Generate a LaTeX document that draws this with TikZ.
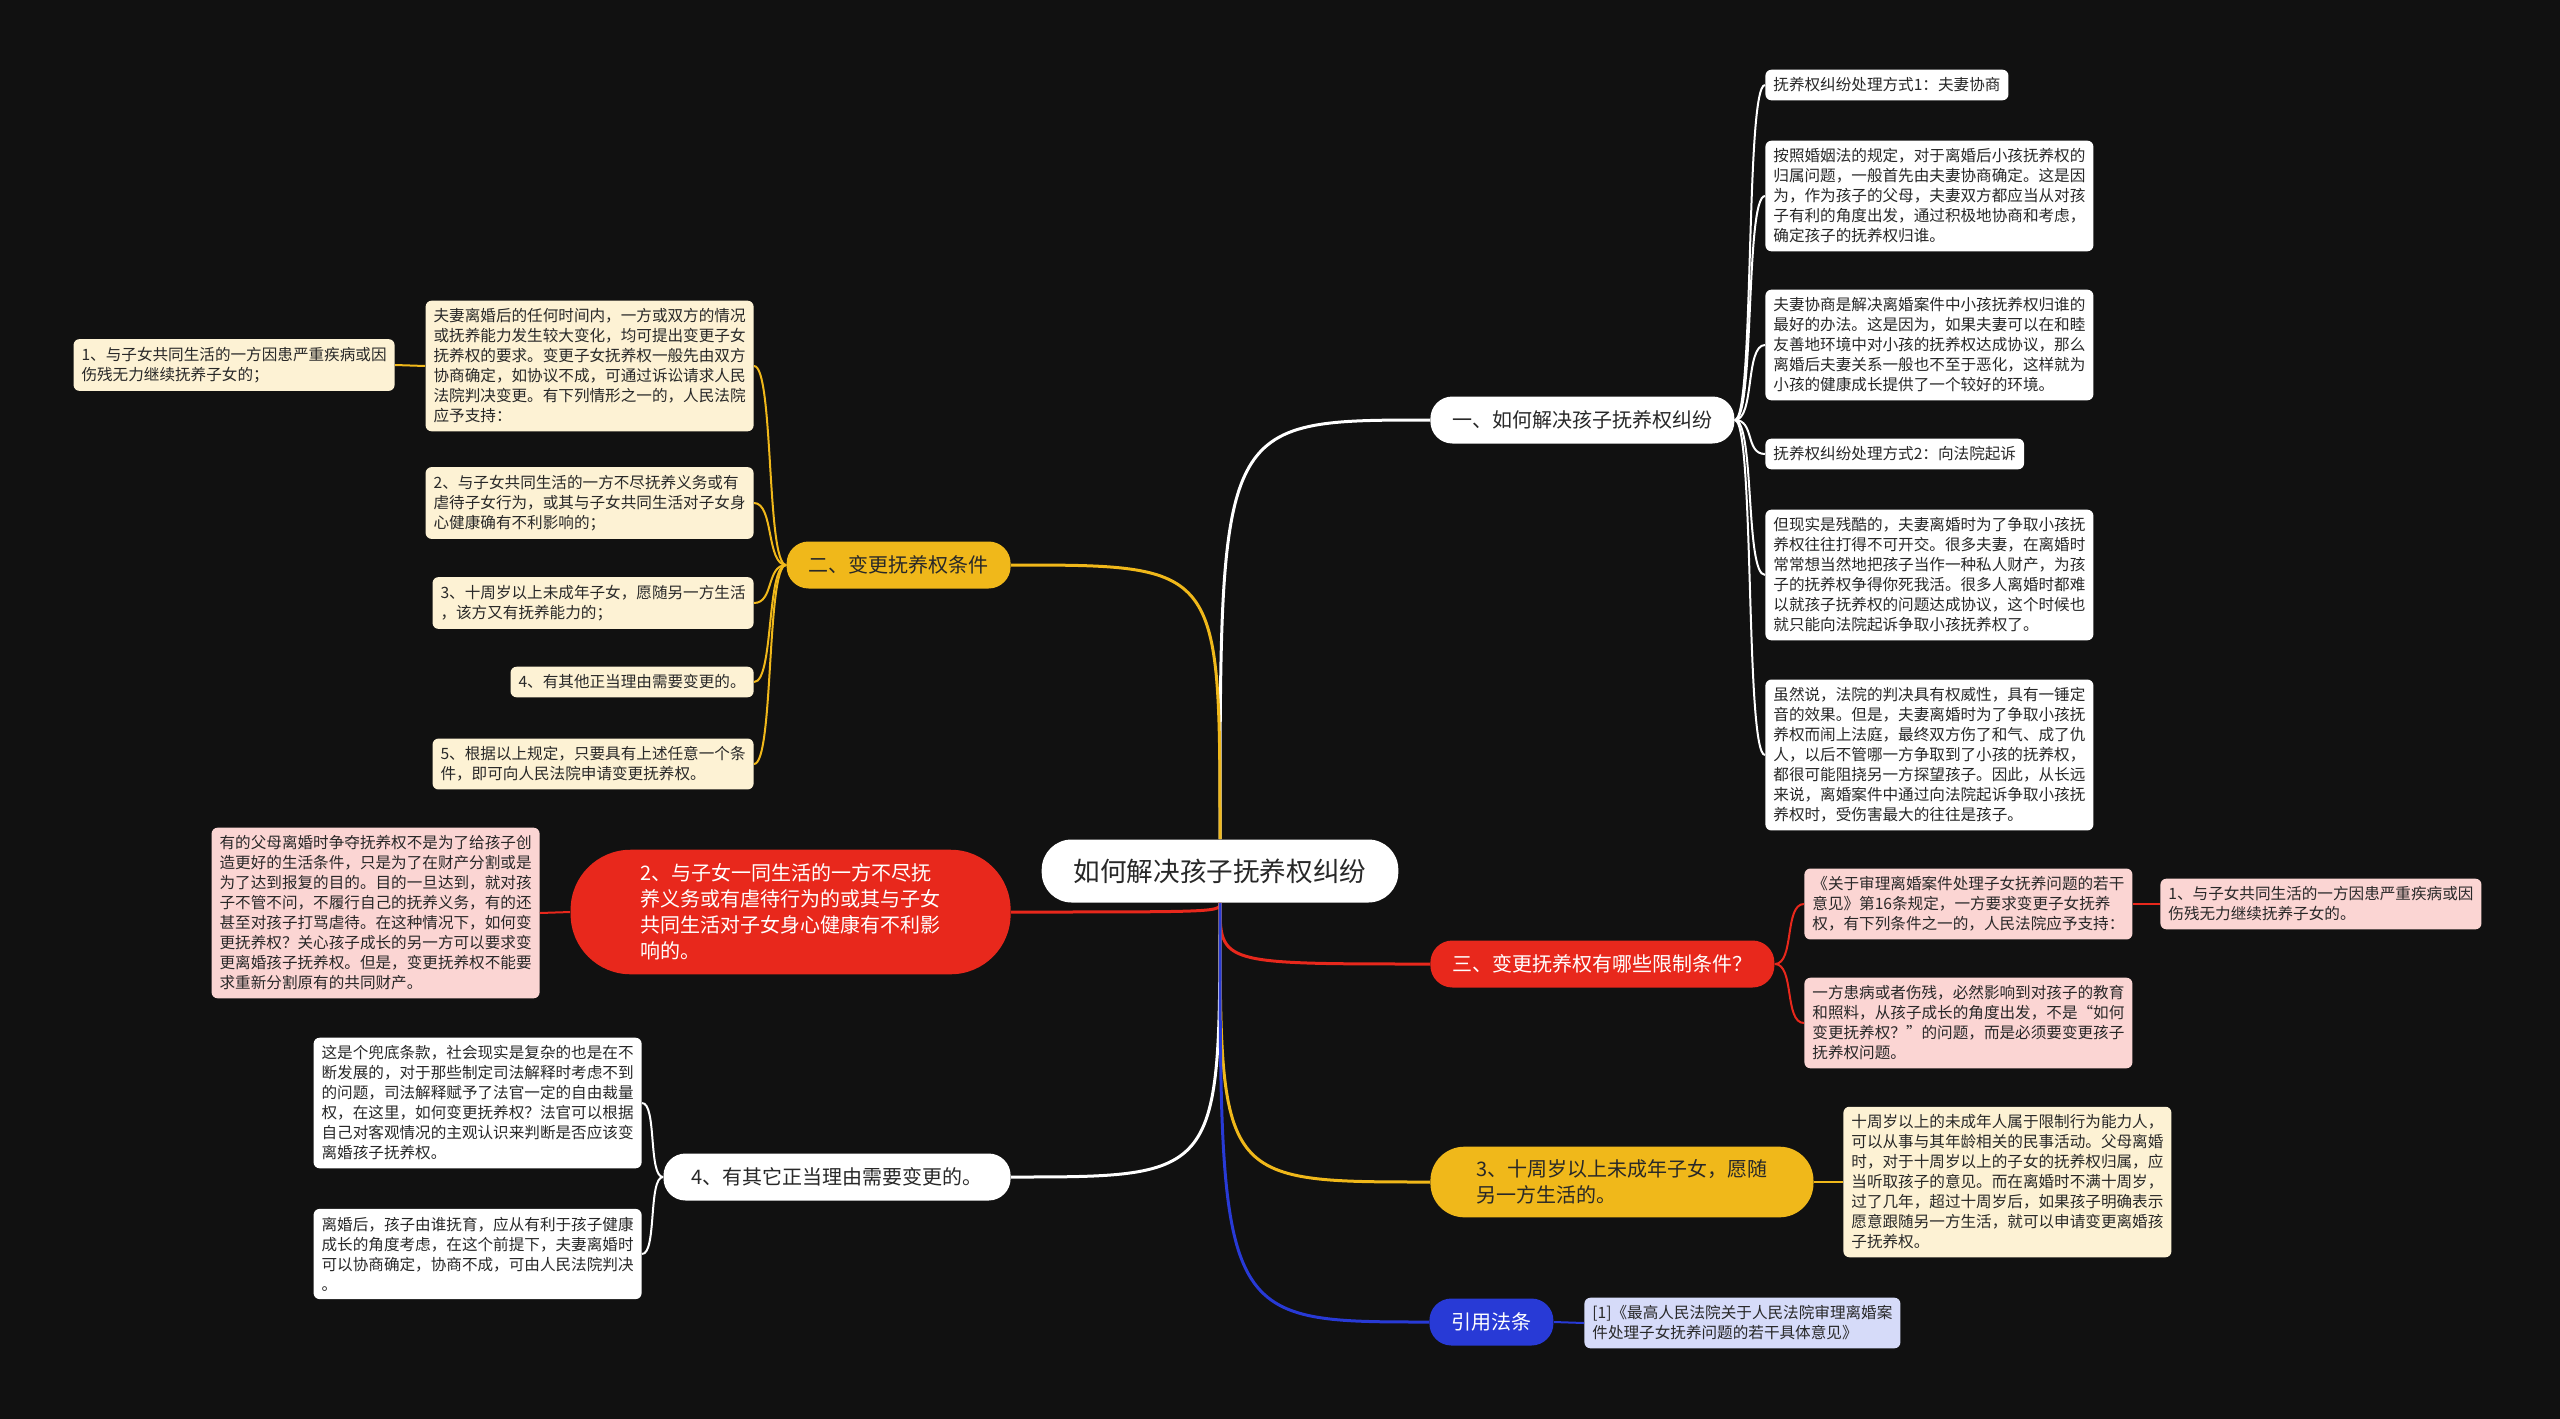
\documentclass[tikz,border=0pt]{standalone}
\usepackage{fontspec}
\setmainfont{Noto Sans CJK SC}
\usetikzlibrary{positioning}
\definecolor{bgdark}{RGB}{17,17,17}
\definecolor{textdark}{RGB}{40,40,40}
\definecolor{mapyellow}{RGB}{240,184,26}
\definecolor{mapred}{RGB}{232,40,28}
\definecolor{mapblue}{RGB}{40,58,214}
\definecolor{notecream}{RGB}{253,242,212}
\definecolor{notepink}{RGB}{251,213,211}
\definecolor{notelilac}{RGB}{214,219,249}

\begin{document}
\begin{tikzpicture}[x=0.5pt,y=-0.5pt]
\tikzstyle{note}=[rounded corners=3pt,inner xsep=4pt,inner ysep=4pt,
align=left,text=textdark,font=\fontsize{7.8}{10}\selectfont]
\tikzstyle{wnote}=[note,fill=white]
\tikzstyle{ynote}=[note,fill=notecream]
\tikzstyle{rnote}=[note,fill=notepink]
\tikzstyle{bnote}=[note,fill=notelilac]
\tikzstyle{topic}=[rounded corners=11pt,minimum height=23.5pt,inner xsep=11pt,
align=left,font=\fontsize{10}{13}\selectfont]
\tikzstyle{wtopic}=[topic,fill=white,text=textdark]
\tikzstyle{ytopic}=[topic,fill=mapyellow,text=textdark]
\tikzstyle{rtopic}=[topic,fill=mapred,text=white]
\tikzstyle{btopic}=[topic,fill=mapblue,text=white]
\tikzstyle{wline}=[draw=white,line width=1pt]
\tikzstyle{yline}=[draw=mapyellow,line width=1pt]
\tikzstyle{rline}=[draw=mapred,line width=1pt]
\tikzstyle{bline}=[draw=mapblue,line width=1pt]
\tikzstyle{trunk}=[line width=1.5pt]

\fill[bgdark] (0,0) rectangle (2560,1419);
\useasboundingbox (0,0) rectangle (2560,1419);

% centre
\node[fill=white,text=textdark,rounded corners=15pt,minimum height=31.5pt,
inner xsep=16pt,font=\fontsize{13.3}{16}\selectfont] (root) at (1220,871) {如何解决孩子抚养权纠纷};

% right side
\node[wtopic,anchor=west] (b1) at (1430,420) {一、如何解决孩子抚养权纠纷};
\node[wnote,anchor=west] (c1) at (1765,85) {抚养权纠纷处理方式1：夫妻协商};
\node[wnote,anchor=west] (c2) at (1765,196) {按照婚姻法的规定，对于离婚后小孩抚养权的\\归属问题，一般首先由夫妻协商确定。这是因\\为，作为孩子的父母，夫妻双方都应当从对孩\\子有利的角度出发，通过积极地协商和考虑，\\确定孩子的抚养权归谁。};
\node[wnote,anchor=west] (c3) at (1765,345) {夫妻协商是解决离婚案件中小孩抚养权归谁的\\最好的办法。这是因为，如果夫妻可以在和睦\\友善地环境中对小孩的抚养权达成协议，那么\\离婚后夫妻关系一般也不至于恶化，这样就为\\小孩的健康成长提供了一个较好的环境。};
\node[wnote,anchor=west] (c4) at (1765,454) {抚养权纠纷处理方式2：向法院起诉};
\node[wnote,anchor=west] (c5) at (1765,575) {但现实是残酷的，夫妻离婚时为了争取小孩抚\\养权往往打得不可开交。很多夫妻，在离婚时\\常常想当然地把孩子当作一种私人财产，为孩\\子的抚养权争得你死我活。很多人离婚时都难\\以就孩子抚养权的问题达成协议，这个时候也\\就只能向法院起诉争取小孩抚养权了。};
\node[wnote,anchor=west] (c6) at (1765,755) {虽然说，法院的判决具有权威性，具有一锤定\\音的效果。但是，夫妻离婚时为了争取小孩抚\\养权而闹上法庭，最终双方伤了和气、成了仇\\人，以后不管哪一方争取到了小孩的抚养权，\\都很可能阻挠另一方探望孩子。因此，从长远\\来说，离婚案件中通过向法院起诉争取小孩抚\\养权时，受伤害最大的往往是孩子。};

\node[rtopic,anchor=west] (b3) at (1430,964) {三、变更抚养权有哪些限制条件？};
\node[rnote,anchor=west] (f1) at (1804,904) {《关于审理离婚案件处理子女抚养问题的若干\\意见》第16条规定，一方要求变更子女抚养\\权，有下列条件之一的，人民法院应予支持：};
\node[rnote,anchor=west] (g1) at (2160,904) {1、与子女共同生活的一方因患严重疾病或因\\伤残无力继续抚养子女的。};
\node[rnote,anchor=west] (f2) at (1804,1023) {一方患病或者伤残，必然影响到对孩子的教育\\和照料，从孩子成长的角度出发，不是“如何\\变更抚养权？”的问题，而是必须要变更孩子\\抚养权问题。};

\node[ytopic,anchor=west,rounded corners=17pt,inner xsep=23pt,inner ysep=6.5pt] (b4) at (1430,1182) {3、十周岁以上未成年子女，愿随\\另一方生活的。};
\node[ynote,anchor=west] (h1) at (1843,1182) {十周岁以上的未成年人属于限制行为能力人，\\可以从事与其年龄相关的民事活动。父母离婚\\时，对于十周岁以上的子女的抚养权归属，应\\当听取孩子的意见。而在离婚时不满十周岁，\\过了几年，超过十周岁后，如果孩子明确表示\\愿意跟随另一方生活，就可以申请变更离婚孩\\子抚养权。};

\node[btopic,anchor=west] (b5) at (1429,1322) {引用法条};
\node[bnote,anchor=west] (i1) at (1584,1323) {[1]《最高人民法院关于人民法院审理离婚案\\件处理子女抚养问题的若干具体意见》};

% left side
\node[ytopic,anchor=east] (b2) at (1011,565) {二、变更抚养权条件};
\node[ynote,anchor=east] (d0) at (754,366) {夫妻离婚后的任何时间内，一方或双方的情况\\或抚养能力发生较大变化，均可提出变更子女\\抚养权的要求。变更子女抚养权一般先由双方\\协商确定，如协议不成，可通过诉讼请求人民\\法院判决变更。有下列情形之一的，人民法院\\应予支持：};
\node[ynote,anchor=east] (e1) at (395,365) {1、与子女共同生活的一方因患严重疾病或因\\伤残无力继续抚养子女的；};
\node[ynote,anchor=east] (d1) at (754,503) {2、与子女共同生活的一方不尽抚养义务或有\\虐待子女行为，或其与子女共同生活对子女身\\心健康确有不利影响的；};
\node[ynote,anchor=east] (d2) at (754,603) {3、十周岁以上未成年子女，愿随另一方生活\\，该方又有抚养能力的；};
\node[ynote,anchor=east] (d3) at (754,682) {4、有其他正当理由需要变更的。};
\node[ynote,anchor=east] (d4) at (754,764) {5、根据以上规定，只要具有上述任意一个条\\件，即可向人民法院申请变更抚养权。};

\node[rtopic,anchor=east,rounded corners=30pt,inner xsep=35pt,inner ysep=7pt] (b6) at (1011,912) {2、与子女一同生活的一方不尽抚\\养义务或有虐待行为的或其与子女\\共同生活对子女身心健康有不利影\\响的。};
\node[rnote,anchor=east] (j1) at (540,913) {有的父母离婚时争夺抚养权不是为了给孩子创\\造更好的生活条件，只是为了在财产分割或是\\为了达到报复的目的。目的一旦达到，就对孩\\子不管不问，不履行自己的抚养义务，有的还\\甚至对孩子打骂虐待。在这种情况下，如何变\\更抚养权？关心孩子成长的另一方可以要求变\\更离婚孩子抚养权。但是，变更抚养权不能要\\求重新分割原有的共同财产。};

\node[wtopic,anchor=east,inner xsep=14pt] (b7) at (1011,1177) {4、有其它正当理由需要变更的。};
\node[wnote,anchor=east] (k1) at (642,1103) {这是个兜底条款，社会现实是复杂的也是在不\\断发展的，对于那些制定司法解释时考虑不到\\的问题，司法解释赋予了法官一定的自由裁量\\权，在这里，如何变更抚养权？法官可以根据\\自己对客观情况的主观认识来判断是否应该变\\离婚孩子抚养权。};
\node[wnote,anchor=east] (k2) at (642,1254) {离婚后，孩子由谁抚育，应从有利于孩子健康\\成长的角度考虑，在这个前提下，夫妻离婚时\\可以协商确定，协商不成，可由人民法院判决\\。};

% trunk lines
\draw[wline,trunk] (root.north) .. controls (root.north |- b1.west) .. (b1.west);
\draw[yline,trunk] (root.north) .. controls (root.north |- b2.east) .. (b2.east);
\draw[rline,trunk] (root.south) .. controls (root.south |- b6.east) .. (b6.east);
\draw[wline,trunk] (root.south) .. controls (root.south |- b7.east) .. (b7.east);
\draw[rline,trunk] (root.south) .. controls (root.south |- b3.west) .. (b3.west);
\draw[yline,trunk] (root.south) .. controls (root.south |- b4.west) .. (b4.west);
\draw[bline,trunk] (root.south) .. controls (root.south |- b5.west) .. (b5.west);

% branch lines
\draw[wline] (b1.east) .. controls +(20,0) and +(-20,0) .. (c1.west);
\draw[wline] (b1.east) .. controls +(20,0) and +(-20,0) .. (c2.west);
\draw[wline] (b1.east) .. controls +(20,0) and +(-20,0) .. (c3.west);
\draw[wline] (b1.east) .. controls +(20,0) and +(-20,0) .. (c4.west);
\draw[wline] (b1.east) .. controls +(20,0) and +(-20,0) .. (c5.west);
\draw[wline] (b1.east) .. controls +(20,0) and +(-20,0) .. (c6.west);
\draw[rline] (b3.east) .. controls +(20,0) and +(-20,0) .. (f1.west);
\draw[rline] (b3.east) .. controls +(20,0) and +(-20,0) .. (f2.west);
\draw[rline] (f1.east) .. controls +(15,0) and +(-15,0) .. (g1.west);
\draw[yline] (b4.east) .. controls +(15,0) and +(-15,0) .. (h1.west);
\draw[bline] (b5.east) .. controls +(15,0) and +(-15,0) .. (i1.west);
\draw[yline] (b2.west) .. controls +(-20,0) and +(20,0) .. (d0.east);
\draw[yline] (b2.west) .. controls +(-20,0) and +(20,0) .. (d1.east);
\draw[yline] (b2.west) .. controls +(-20,0) and +(20,0) .. (d2.east);
\draw[yline] (b2.west) .. controls +(-20,0) and +(20,0) .. (d3.east);
\draw[yline] (b2.west) .. controls +(-20,0) and +(20,0) .. (d4.east);
\draw[yline] (d0.west) .. controls +(-15,0) and +(15,0) .. (e1.east);
\draw[rline] (b6.west) .. controls +(-15,0) and +(15,0) .. (j1.east);
\draw[wline] (b7.west) .. controls +(-15,0) and +(15,0) .. (k1.east);
\draw[wline] (b7.west) .. controls +(-15,0) and +(15,0) .. (k2.east);

\end{tikzpicture}
\end{document}
